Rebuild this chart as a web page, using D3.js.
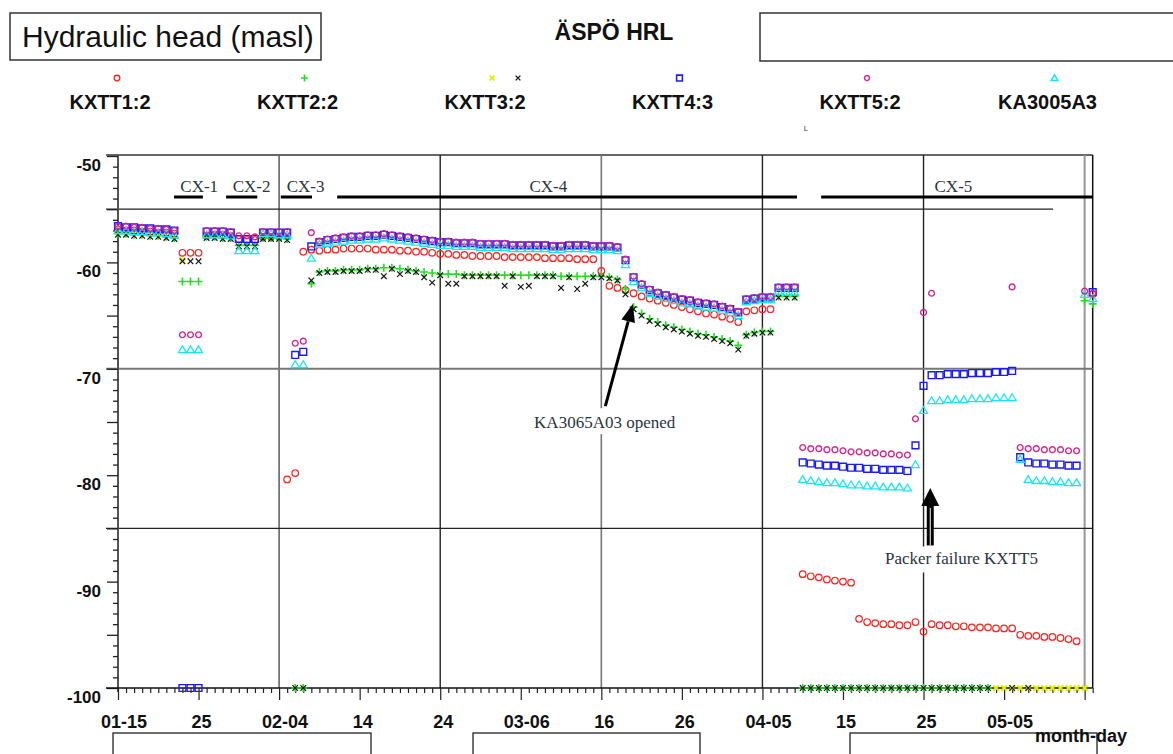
<!DOCTYPE html>
<html>
<head>
<meta charset="utf-8">
<script src="https://cdn.jsdelivr.net/npm/d3@7"></script>
<style>
  body { margin: 0; background: #fff; }
  svg { display: block; }
</style>
</head>
<body>
<svg id="chart" width="1173" height="754"></svg>
<script>
// ---- Data: daily hydraulic head readings (masl), 2005-01-15 .. 2005-05-16 ----
const startDate = "2005-01-15";
const endDate = "2005-05-16";
const n = null;

const kxtt1 = [
  -56.9,-57.0,-57.0,-57.1,-57.1,-57.2,-57.2,-57.3,-59.1,-59.1,
  -59.1,-57.5,-57.4,-57.4,-57.5,-57.8,-57.9,-57.9,-57.6,-57.6,
  -57.6,-80.4,-79.8,-59.0,-58.8,-58.9,-58.8,-58.8,-58.7,-58.7,
  -58.7,-58.7,-58.8,-58.8,-58.8,-58.9,-58.9,-59.0,-59.0,-59.1,
  -59.2,-59.2,-59.3,-59.3,-59.4,-59.4,-59.4,-59.4,-59.5,-59.5,
  -59.5,-59.5,-59.5,-59.6,-59.6,-59.6,-59.6,-59.7,-59.7,-59.7,
  -60.8,-62.2,-62.4,-62.6,-62.9,-63.2,-63.4,-63.6,-63.8,-64.0,
  -64.2,-64.4,-64.6,-64.8,-64.9,-65.1,-65.3,-65.6,-64.6,-64.5,
  -64.4,-64.4,n,n,n,-89.3,-89.5,-89.6,-89.8,-89.9,
  -90.0,-90.1,-93.5,-93.8,-93.9,-94.0,-94.0,-94.1,-94.1,-93.8,
  -94.7,-94.0,-94.1,-94.1,-94.2,-94.2,-94.3,-94.3,-94.3,-94.4,
  -94.4,-94.4,-95.0,-95.1,-95.1,-95.2,-95.2,-95.3,-95.4,-95.6,
  n,-63.0
];

const kxtt2 = [
  -57.3,-57.3,-57.4,-57.4,-57.5,-57.5,-57.6,-57.7,-61.8,-61.8,
  -61.8,-57.6,-57.6,-57.7,-57.7,-58.4,-58.4,-58.4,-57.7,-57.7,
  -57.7,-57.8,-100,-100,-62.0,-60.9,-60.8,-60.8,-60.7,-60.7,
  -60.7,-60.6,-60.6,-60.5,-60.5,-60.6,-60.7,-60.8,-60.9,-61.0,
  -61.1,-61.1,-61.1,-61.2,-61.2,-61.2,-61.2,-61.2,-61.2,-61.2,
  -61.2,-61.2,-61.2,-61.2,-61.2,-61.3,-61.3,-61.3,-61.3,-61.3,
  -61.3,-61.4,-61.6,-62.5,-64.2,-64.8,-65.3,-65.6,-65.9,-66.1,
  -66.3,-66.5,-66.7,-66.8,-67.0,-67.2,-67.4,-67.8,-66.8,-66.6,
  -66.5,-66.5,-63.2,-63.2,-63.2,-100,-100,-100,-100,-100,
  -100,-100,-100,-100,-100,-100,-100,-100,-100,-100,
  -100,-100,-100,-100,-100,-100,-100,-100,-100,n,
  n,n,n,n,n,n,n,n,n,n,
  -63.6,-63.9
];

const kxtt3 = [
  n,n,n,n,n,n,n,n,-59.8,n,
  n,n,n,n,n,n,n,n,n,n,
  n,n,n,n,n,n,n,n,n,n,
  n,n,n,n,n,n,n,n,n,n,
  n,n,n,n,n,n,n,n,n,n,
  n,n,n,n,n,n,n,n,n,n,
  n,n,n,n,n,n,n,n,n,n,
  n,n,n,n,n,n,n,n,n,n,
  n,n,n,n,n,n,n,n,n,n,
  n,n,n,n,n,n,n,n,n,n,
  n,n,n,n,n,n,n,n,n,-100,
  -100,-100,-100,-100,-100,-100,-100,-100,-100,-100,
  -100,n
];

const kxtt3Second = [
  -57.4,-57.4,-57.5,-57.5,-57.6,-57.6,-57.7,-57.8,-59.9,-59.9,
  -59.9,-57.7,-57.7,-57.8,-57.8,-58.5,-58.5,-58.5,-57.8,-57.8,
  -57.8,-57.9,-100,-100,-61.7,-61.0,-60.9,-60.9,-60.8,-60.8,
  -60.8,-60.7,-60.7,-61.3,-60.6,-61.1,-60.8,-60.9,-61.4,-61.9,
  -61.2,-62.0,-62.0,-61.3,-61.3,-61.3,-61.3,-61.3,-62.2,-61.3,
  -62.3,-62.2,-61.3,-61.3,-61.3,-62.4,-61.4,-62.5,-62.0,-61.4,
  -61.4,-61.5,-61.7,-63.0,-64.4,-65.0,-65.5,-65.8,-66.1,-66.3,
  -66.5,-66.7,-66.9,-67.0,-67.2,-67.4,-67.6,-68.2,-66.9,-66.7,
  -66.6,-66.6,-63.3,-63.3,-63.3,-100,-100,-100,-100,-100,
  -100,-100,-100,-100,-100,-100,-100,-100,-100,-100,
  -100,-100,-100,-100,-100,-100,-100,-100,-100,n,
  n,-100,n,-100,n,n,n,n,n,n,
  n,n
];

const kxtt4 = [
  -56.6,-56.7,-56.7,-56.8,-56.8,-56.9,-56.9,-57.0,-100,-100,
  -100,-57.1,-57.1,-57.1,-57.2,-57.8,-57.8,-57.8,-57.2,-57.2,
  -57.2,-57.2,-68.7,-68.4,-58.5,-58.1,-57.9,-57.8,-57.7,-57.6,
  -57.6,-57.5,-57.5,-57.4,-57.5,-57.6,-57.7,-57.8,-57.9,-58.0,
  -58.1,-58.1,-58.2,-58.2,-58.2,-58.3,-58.3,-58.3,-58.3,-58.4,
  -58.4,-58.4,-58.4,-58.4,-58.5,-58.5,-58.4,-58.4,-58.4,-58.5,
  -58.5,-58.5,-58.6,-59.8,-61.4,-62.1,-62.6,-62.9,-63.1,-63.3,
  -63.5,-63.6,-63.8,-63.9,-64.0,-64.2,-64.4,-64.7,-63.5,-63.4,
  -63.3,-63.3,-62.4,-62.4,-62.4,-78.8,-78.9,-79.0,-79.1,-79.1,
  -79.2,-79.3,-79.3,-79.4,-79.4,-79.5,-79.5,-79.5,-79.6,-77.2,
  -71.6,-70.6,-70.6,-70.5,-70.5,-70.5,-70.4,-70.4,-70.4,-70.3,
  -70.3,-70.2,-78.3,-78.8,-78.9,-78.9,-79.0,-79.0,-79.1,-79.1,
  n,-62.8
];

const kxtt5 = [
  -56.6,-56.6,-56.7,-56.7,-56.8,-56.8,-56.9,-57.0,-66.8,-66.8,
  -66.8,-57.0,-57.0,-57.0,-57.1,-57.5,-57.5,-57.6,-57.1,-57.1,
  -57.1,-57.1,-67.6,-67.4,-57.2,-58.0,-57.8,-57.7,-57.6,-57.5,
  -57.5,-57.4,-57.4,-57.3,-57.4,-57.5,-57.6,-57.7,-57.8,-57.9,
  -58.0,-58.0,-58.1,-58.1,-58.1,-58.2,-58.2,-58.2,-58.2,-58.3,
  -58.3,-58.3,-58.3,-58.3,-58.4,-58.4,-58.3,-58.3,-58.3,-58.4,
  -58.4,-58.4,-58.5,-59.7,-61.3,-62.0,-62.5,-62.8,-63.0,-63.2,
  -63.4,-63.5,-63.7,-63.8,-63.9,-64.1,-64.3,-64.6,-63.4,-63.3,
  -63.2,-63.2,-62.3,-62.3,-62.3,-77.4,-77.5,-77.5,-77.6,-77.6,
  -77.7,-77.8,-77.8,-77.9,-77.9,-78.0,-78.0,-78.1,-78.1,-74.7,
  -64.7,-62.9,n,n,n,n,n,n,n,n,
  n,-62.3,-77.4,-77.5,-77.5,-77.6,-77.6,-77.6,-77.7,-77.7,
  -62.7,-62.9
];

const ka3005a3 = [
  -57.0,-57.0,-57.1,-57.1,-57.2,-57.2,-57.3,-57.4,-68.2,-68.2,
  -68.2,-57.4,-57.4,-57.4,-57.5,-58.9,-58.9,-58.9,-57.3,-57.3,
  -57.4,-57.4,-69.6,-69.6,-59.6,-58.3,-58.2,-58.1,-58.0,-57.9,
  -57.9,-57.8,-57.8,-57.7,-57.8,-57.9,-58.0,-58.1,-58.2,-58.3,
  -58.4,-58.4,-58.5,-58.5,-58.5,-58.6,-58.6,-58.6,-58.6,-58.7,
  -58.7,-58.7,-58.7,-58.7,-58.8,-58.8,-58.7,-58.7,-58.7,-58.8,
  -58.8,-58.8,-58.9,-60.2,-61.8,-62.4,-62.9,-63.2,-63.4,-63.6,
  -63.8,-63.9,-64.1,-64.2,-64.3,-64.5,-64.7,-65.0,-63.7,-63.6,
  -63.5,-63.5,-62.7,-62.8,-62.8,-80.4,-80.5,-80.6,-80.7,-80.7,
  -80.8,-80.9,-80.9,-81.0,-81.0,-81.1,-81.1,-81.1,-81.2,-79.0,
  -73.9,-73.0,-73.0,-72.9,-72.9,-72.9,-72.8,-72.8,-72.8,-72.7,
  -72.7,-72.7,-78.5,-80.4,-80.5,-80.5,-80.6,-80.6,-80.7,-80.7,
  -63.0,-63.4
];

// Axis ticks
const yTickValues = [-100, -90, -80, -70, -60, -50];
const xTickDates = ["2005-01-15","2005-01-25","2005-02-04","2005-02-14","2005-02-24","2005-03-06",
                    "2005-03-16","2005-03-26","2005-04-05","2005-04-15","2005-04-25","2005-05-05"];
const xTickLabels = ["01-15","25","02-04","14","24","03-06","16","26","04-05","15","25","05-05"];

// Test campaign periods
const phaseNames  = ["CX-1", "CX-2", "CX-3", "CX-4", "CX-5"];
const phaseStarts = ["2005-01-21T23:00","2005-01-28T10:00","2005-02-04T05:00","2005-02-11T05:00","2005-04-12T07:00"];
const phaseEnds   = ["2005-01-25T13:00","2005-02-01T07:00","2005-02-08T02:00","2005-04-09T07:00","2005-05-16T00:00"];
const phaseLabelAt = ["2005-01-25T02:00","2005-01-31T14:00","2005-02-07T07:00","2005-03-09T10:00","2005-04-28T17:00"];

// Reference levels and grid dates
const refLevels = [-55, -70, -85];
const refLevelEnds = ["2005-05-11T02:00", "2005-05-16T00:00", "2005-05-16T00:00"];
const gridDates = ["2005-02-04","2005-02-24","2005-03-16","2005-04-05","2005-04-25","2005-05-15"];

// ---- Setup ----
const parse = d3.utcParse("%Y-%m-%d");
const parseT = d3.utcParse("%Y-%m-%dT%H:%M");
const t0 = parse(startDate);
const t1 = parse(endDate);
const sampleDates = kxtt1.map((_, i) => d3.utcDay.offset(t0, i));

const plot = { left: 118, right: 1092.7, top: 155, bottom: 688 };
const x = d3.scaleUtc().domain([t0, t1]).range([plot.left, plot.right]);
const y = d3.scaleLinear().domain([-100, -50]).range([688, 156]);

const svg = d3.select("#chart");
const sans = "'Liberation Sans', Arial, sans-serif";
const serif = "'Liberation Serif', 'Times New Roman', serif";

const shapes = {
  circle: "M3.3,0A3.3,3.3 0 1,1 -3.3,0A3.3,3.3 0 1,1 3.3,0Z",
  plus: "M-4,0H4M0,-4V4",
  cross: "M-2.8,-2.8L2.8,2.8M-2.8,2.8L2.8,-2.8",
  square: "M-3.4,-3.4H3.4V3.4H-3.4Z",
  triangle: "M0,-3.8L4,3H-4Z",
  dot: "M2.9,0A2.9,2.9 0 1,1 -2.9,0A2.9,2.9 0 1,1 2.9,0Z"
};

const series = [
  { key: "KXTT1:2",  values: kxtt1,       color: "#ff2222", shape: "circle",   width: 1.2 },
  { key: "KXTT2:2",  values: kxtt2,       color: "#1fe01f", shape: "plus",     width: 1.6 },
  { key: "KXTT3:2",  values: kxtt3,       color: "#e4f000", shape: "cross",    width: 2.0 },
  { key: "KXTT3:2b", values: kxtt3Second, color: "#151515", shape: "cross",    width: 1.2 },
  { key: "KXTT4:3",  values: kxtt4,       color: "#1a1aff", shape: "square",   width: 1.4 },
  { key: "KA3005A3", values: ka3005a3,    color: "#18e8ee", shape: "triangle", width: 1.3 },
  { key: "KXTT5:2",  values: kxtt5,       color: "#d2268f", shape: "dot",      width: 1.4 }
];

// ---- Header ----
svg.append("rect").attr("x", 10).attr("y", 13).attr("width", 311).attr("height", 47)
  .attr("fill", "none").attr("stroke", "#333").attr("stroke-width", 1.5);
svg.append("text").attr("x", 22).attr("y", 47).attr("font-family", sans).attr("font-size", 30)
  .attr("fill", "#111").text("Hydraulic head (masl)");
svg.append("text").attr("x", 614).attr("y", 40).attr("text-anchor", "middle").attr("font-family", sans)
  .attr("font-size", 23).attr("font-weight", "bold").attr("fill", "#111").text("ÄSPÖ HRL");
svg.append("rect").attr("x", 760).attr("y", 13).attr("width", 500).attr("height", 48)
  .attr("fill", "none").attr("stroke", "#333").attr("stroke-width", 1.5);

// ---- Legend ----
const legendItems = [
  { label: "KXTT1:2",  marks: [0] },
  { label: "KXTT2:2",  marks: [1] },
  { label: "KXTT3:2",  marks: [2, 3] },
  { label: "KXTT4:3",  marks: [4] },
  { label: "KXTT5:2",  marks: [6] },
  { label: "KA3005A3", marks: [5] }
];
const legend = svg.append("g");
legendItems.forEach((item, i) => {
  const cx = 110 + i * 187.5;
  legend.append("text").attr("x", cx).attr("y", 109).attr("text-anchor", "middle")
    .attr("font-family", sans).attr("font-size", 20).attr("font-weight", "bold").attr("fill", "#111")
    .text(item.label);
  item.marks.forEach((si, j) => {
    const s = series[si];
    legend.append("path").attr("d", shapes[s.shape])
      .attr("transform", `translate(${cx + 7 + j * 26},78) scale(0.85)`)
      .attr("fill", "none").attr("stroke", s.color).attr("stroke-width", s.width + 0.4);
  });
});
svg.append("text").attr("x", 806).attr("y", 131).attr("text-anchor", "middle")
  .attr("font-family", sans).attr("font-size", 8).attr("fill", "#444").text("L");

// ---- Frame, grid and reference levels ----
const grid = svg.append("g");
grid.append("line").attr("x1", 106).attr("x2", plot.right).attr("y1", plot.top).attr("y2", plot.top)
  .attr("stroke", "#333").attr("stroke-width", 1.5);
grid.append("line").attr("x1", plot.right).attr("x2", plot.right).attr("y1", plot.top).attr("y2", plot.bottom)
  .attr("stroke", "#111").attr("stroke-width", 1.5);

const gridStyles = [["#666", 1.6], ["#222", 1.4], ["#777", 1.6], ["#222", 1.4], ["#222", 1.4], ["#999", 2]];
gridDates.forEach((d, i) => {
  const gx = x(parse(d));
  grid.append("line").attr("x1", gx).attr("x2", gx).attr("y1", plot.top).attr("y2", plot.bottom)
    .attr("stroke", gridStyles[i][0]).attr("stroke-width", gridStyles[i][1]);
});

const refStyles = [["#222", 1.2], ["#777", 2], ["#222", 1.2]];
refLevels.forEach((v, i) => {
  grid.append("line").attr("x1", 106).attr("x2", x(parseT(refLevelEnds[i])))
    .attr("y1", y(v)).attr("y2", y(v))
    .attr("stroke", refStyles[i][0]).attr("stroke-width", refStyles[i][1]);
});

// Campaign periods
const phases = svg.append("g");
phaseNames.forEach((name, i) => {
  phases.append("line")
    .attr("x1", x(parseT(phaseStarts[i]))).attr("x2", x(parseT(phaseEnds[i])))
    .attr("y1", 197).attr("y2", 197).attr("stroke", "#000").attr("stroke-width", 3);
  phases.append("text").attr("x", x(parseT(phaseLabelAt[i]))).attr("y", 192)
    .attr("text-anchor", "middle").attr("font-family", serif).attr("font-size", 17)
    .attr("fill", "#2b3440").text(name);
});

// ---- Axes ----
const yAxis = d3.axisLeft(y).tickValues(d3.range(-100, -49, 1)).tickFormat("").tickSizeOuter(0);
const gy = svg.append("g").attr("transform", `translate(${plot.left},0)`).call(yAxis);
gy.select(".domain").attr("stroke", "#555").attr("stroke-width", 2)
  .attr("d", `M0,${plot.top}V${plot.bottom + 4}`);
gy.selectAll(".tick line")
  .attr("x2", d => (d % 5 === 0 ? -11 : -5))
  .attr("stroke", "#222").attr("stroke-width", 1.3);

svg.append("g").selectAll("text").data(yTickValues).join("text")
  .attr("x", 101).attr("y", d => y(d) + 15).attr("text-anchor", "end")
  .attr("font-family", sans).attr("font-size", 17).attr("font-weight", "bold").attr("fill", "#111")
  .text(d => d);

const xAxis = d3.axisBottom(x).ticks(d3.utcDay.every(1)).tickFormat("").tickSizeOuter(0);
const gx = svg.append("g").attr("transform", `translate(0,${plot.bottom})`).call(xAxis);
gx.select(".domain").attr("stroke", "#111").attr("stroke-width", 1.6)
  .attr("d", `M106,0H${plot.right}`);
gx.selectAll(".tick line")
  .attr("y2", d => (d3.utcDay.count(t0, d) % 10 === 0 ? 12 : 5))
  .attr("stroke", "#222").attr("stroke-width", 1.2);

svg.append("g").selectAll("text").data(xTickDates).join("text")
  .attr("x", (d, i) => x(parse(d)) + (xTickLabels[i].length > 2 ? 6 : 3))
  .attr("y", 728).attr("text-anchor", "middle")
  .attr("font-family", sans).attr("font-size", 18).attr("font-weight", "bold").attr("fill", "#111")
  .text((d, i) => xTickLabels[i]);

// ---- Data points ----
const marks = svg.append("g");
series.forEach(s => {
  const pts = s.values.map((v, i) => ({ date: sampleDates[i], v })).filter(p => p.v !== null);
  marks.append("g").selectAll("path").data(pts).join("path")
    .attr("d", shapes[s.shape])
    .attr("transform", p => `translate(${x(p.date)},${y(p.v)})`)
    .attr("fill", "none").attr("stroke", s.color).attr("stroke-width", s.width);
});

// ---- Annotations ----
const notes = svg.append("g");
// KA3065A03 opened
const openTip = [x(parseT("2005-03-19T22:00")), y(-63.9)];
const openTail = [x(parseT("2005-03-16T12:00")), y(-73.5)];
const ang = Math.atan2(openTip[1] - openTail[1], openTip[0] - openTail[0]);
const headLen = 18, headHalf = 7;
const base = [openTip[0] - headLen * Math.cos(ang), openTip[1] - headLen * Math.sin(ang)];
notes.append("line").attr("x1", openTail[0]).attr("y1", openTail[1]).attr("x2", base[0]).attr("y2", base[1])
  .attr("stroke", "#000").attr("stroke-width", 3);
notes.append("path")
  .attr("d", `M${openTip[0]},${openTip[1]}L${base[0] + headHalf * Math.sin(ang)},${base[1] - headHalf * Math.cos(ang)}L${base[0] - headHalf * Math.sin(ang)},${base[1] + headHalf * Math.cos(ang)}Z`)
  .attr("fill", "#000");
const openLabelX = x(parseT("2005-03-16T10:00"));
notes.append("rect").attr("x", openLabelX - 76).attr("y", y(-73.7)).attr("width", 152).attr("height", 26).attr("fill", "#fff");
notes.append("text").attr("x", openLabelX).attr("y", y(-75.6)).attr("text-anchor", "middle")
  .attr("font-family", serif).attr("font-size", 17).attr("fill", "#2b3440").text("KA3065A03 opened");

// Packer failure KXTT5
const pfX = x(parseT("2005-04-25T20:00"));
const pfTip = y(-81.2), pfBase = y(-82.9), pfEnd = y(-86.6);
notes.append("rect").attr("x", pfX - 3.5).attr("y", pfBase - 1).attr("width", 7).attr("height", pfEnd - pfBase + 1).attr("fill", "#000");
notes.append("line").attr("x1", pfX).attr("x2", pfX).attr("y1", pfBase + 2).attr("y2", pfEnd).attr("stroke", "#fff").attr("stroke-width", 1);
notes.append("path").attr("d", `M${pfX},${pfTip}L${pfX + 9},${pfBase}H${pfX - 9}Z`).attr("fill", "#000");
const pfLabelX = x(parseT("2005-04-29T17:00"));
notes.append("rect").attr("x", pfLabelX - 84).attr("y", y(-86.7)).attr("width", 168).attr("height", 26).attr("fill", "#fff");
notes.append("text").attr("x", pfLabelX).attr("y", y(-88.3)).attr("text-anchor", "middle")
  .attr("font-family", serif).attr("font-size", 17).attr("fill", "#2b3440").text("Packer failure KXTT5");

// ---- Footer ----
const footer = svg.append("g");
[[113, 258], [473, 227], [850, 247]].forEach(([bx, bw]) => {
  footer.append("rect").attr("x", bx).attr("y", 733).attr("width", bw).attr("height", 40)
    .attr("fill", "none").attr("stroke", "#222").attr("stroke-width", 1.3);
});
footer.append("text").attr("x", 1081).attr("y", 742).attr("text-anchor", "middle")
  .attr("font-family", sans).attr("font-size", 18).attr("font-weight", "bold").attr("fill", "#111")
  .text("month-day");
</script>
</body>
</html>
